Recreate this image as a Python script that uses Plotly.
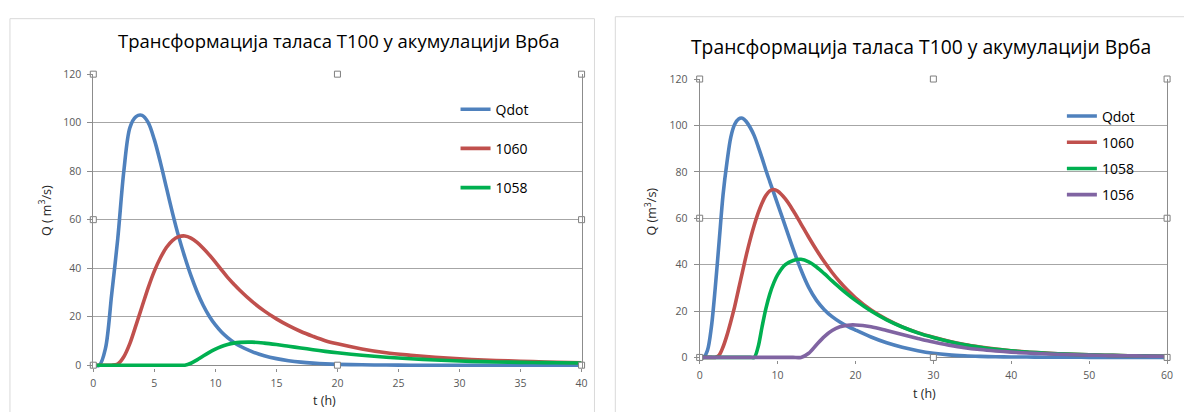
import plotly.graph_objects as go

# ---------------------------------------------------------------- data
TITLE = "Трансформација таласа Т100 у акумулацији Врба"

# Left chart: inflow hydrograph and outflow at two levels (0-40 h)
t_a = [0, 0.5, 1, 1.5, 2, 2.5, 3, 3.5, 4, 4.5, 5, 5.5, 6, 6.5, 7, 7.5, 8, 8.5,
       9, 9.5, 10, 10.5, 11, 11.5, 12,
       13, 14, 15, 16, 17, 18, 19, 20,
       22, 24, 26, 28, 30, 32, 34, 36, 38, 40]
qdot_a = [0, 0, 7, 29, 52, 80, 98, 102.5, 103, 100, 93, 83.5, 73, 62.5, 52.9, 44.5, 36.9, 30.3,
          24.7, 20.2, 16.6, 13.7, 11.4, 9.5, 7.9,
          5.6, 3.9, 2.7, 1.85, 1.25, 0.85, 0.55, 0.35,
          0.15, 0.05, 0, 0, 0, 0, 0, 0, 0, 0]
q1060_a = [0, 0, 0, 0, 0.5, 3.5, 9, 16.5, 24.3, 32, 38.8, 44.3, 48.6, 51.5, 53.0, 53.3, 52.4, 50.6,
           48.2, 45.5, 42.5, 39.3, 36.2, 33.5, 30.9,
           26.3, 22.4, 19.1, 16.3, 13.9, 11.9, 10.1, 8.8,
           6.7, 5.1, 4.1, 3.25, 2.6, 2.15, 1.77, 1.45, 1.2, 1.0]
q1058_a = [0, 0, 0, 0, 0, 0, 0, 0, 0, 0, 0, 0, 0, 0, 0, 0, 0.8, 2.2,
           3.8, 5.3, 6.6, 7.7, 8.5, 9.1, 9.4,
           9.5, 9.1, 8.5, 7.8, 7.1, 6.4, 5.7, 5.1,
           4.1, 3.3, 2.65, 2.15, 1.75, 1.45, 1.25, 1.1, 1.0, 0.9]

# Right chart: inflow hydrograph and outflow at three levels (0-60 h)
t_b = [0, 0.5, 1, 1.5, 2, 2.5, 3, 3.5, 4, 4.5, 5, 5.5, 6, 6.5, 7, 7.5, 8, 8.5, 9, 9.5, 10,
       11, 12, 13, 14, 15, 16, 17, 18, 19, 20,
       22, 24, 26, 28, 30, 32, 34, 36, 38, 40, 42, 44, 46, 48, 50, 52, 54, 56, 58, 60]
qdot_b = [0, 0, 3, 13, 30, 50, 70, 84, 95, 100.5, 102.8, 103.1, 101.6, 99, 95.6, 91, 86, 80.7, 75.8, 71, 66.2,
          56.5, 46.8, 37.8, 30.2, 24.6, 20.6, 17.6, 15.3, 13.4, 11.8,
          8.8, 6.3, 4.4, 2.9, 1.8, 1.1, 0.7, 0.45, 0.3, 0.2, 0.15, 0.1, 0.08, 0.05, 0.04, 0.03, 0.02, 0.01, 0, 0]
q1060_b = [0, 0, 0, 0, 0, 1, 4.5, 9.5, 15.5, 22, 29.5, 37, 44.3, 51, 57, 62.2, 66.5, 69.8, 71.8, 72.4, 71.7,
           68.3, 63.3, 57.6, 51.8, 46.3, 41.2, 36.6, 32.5, 28.9, 25.7,
           20.4, 16.4, 13.2, 10.7, 8.7, 7.0, 5.6, 4.5, 3.6, 2.9, 2.35, 1.95, 1.6, 1.35, 1.15, 0.95, 0.8, 0.7, 0.6, 0.5]
q1058_b = [0, 0, 0, 0, 0, 0, 0, 0, 0, 0, 0, 0, 0, 0, 0, 4.5, 13, 21, 27.3, 32, 35.6,
           40, 41.8, 42.3, 41.2, 39, 36.1, 33, 30, 27.2, 24.6,
           20, 16.2, 13.1, 10.6, 8.6, 6.9, 5.5, 4.4, 3.5, 2.85, 2.3, 1.9, 1.55, 1.3, 1.1, 0.95, 0.8, 0.7, 0.6, 0.5]
q1056_b = [0, 0, 0, 0, 0, 0, 0, 0, 0, 0, 0, 0, 0, 0, 0, 0, 0, 0, 0, 0, 0,
           0, 0, 0, 1.8, 5.5, 9, 11.6, 13.2, 13.9, 14,
           13.2, 11.6, 9.9, 8.2, 6.6, 5.3, 4.2, 3.4, 2.8, 2.3, 1.9, 1.6, 1.35, 1.15, 1.0, 0.85, 0.75, 0.65, 0.55, 0.5]

x_ticks_a = [0, 5, 10, 15, 20, 25, 30, 35, 40]
x_ticks_b = [0, 10, 20, 30, 40, 50, 60]
y_ticks = [0, 20, 40, 60, 80, 100, 120]

# ---------------------------------------------------------------- style
W, H = 1184, 412
FONT = "Open Sans"
COLORS = {"Qdot": "#4F81BD", "1060": "#C0504D", "1058": "#00B050", "1056": "#8064A2"}
GRID = "#A6A6A6"
AXIS = "#8C8C8C"
TICKFONT = dict(family=FONT, size=10.5, color="#595959")


def px_x(p):
    return p / W


def px_y(p):
    return 1 - p / H


fig = go.Figure()

series_a = [("Qdot", qdot_a), ("1060", q1060_a), ("1058", q1058_a)]
series_b = [("Qdot", qdot_b), ("1060", q1060_b), ("1058", q1058_b), ("1056", q1056_b)]

for name, vals in series_a:
    fig.add_trace(go.Scatter(
        x=t_a, y=vals, name=name, mode="lines", xaxis="x", yaxis="y",
        line=dict(color=COLORS[name], width=3.6, shape="spline", smoothing=0.9),
        legend="legend", legendgroup="a" + name, hoverinfo="skip"))

for name, vals in series_b:
    fig.add_trace(go.Scatter(
        x=t_b, y=vals, name=name, mode="lines", xaxis="x2", yaxis="y2",
        line=dict(color=COLORS[name], width=3.6, shape="spline", smoothing=0.9),
        legend="legend2", legendgroup="b" + name, hoverinfo="skip"))

# selection handles on the plot-area border
for xa, ya, xt in (("x", "y", x_ticks_a), ("x2", "y2", x_ticks_b)):
    x_lo, x_hi = xt[0], xt[-1]
    x_mid = (x_lo + x_hi) / 2
    y_lo, y_hi = y_ticks[0], y_ticks[-1]
    y_mid = (y_lo + y_hi) / 2
    hx = [x_lo, x_mid, x_hi, x_lo, x_hi, x_lo, x_mid, x_hi]
    hy = [y_hi, y_hi, y_hi, y_mid, y_mid, y_lo, y_lo, y_lo]
    fig.add_trace(go.Scatter(
        x=hx, y=hy, mode="markers", xaxis=xa, yaxis=ya, showlegend=False,
        cliponaxis=False, hoverinfo="skip",
        marker=dict(symbol="square", size=6, color="white",
                    line=dict(color="#7F7F7F", width=1))))


def xaxis_cfg(domain, ticks):
    return dict(domain=domain, range=[ticks[0], ticks[-1]], tickvals=ticks,
                showgrid=False, zeroline=False, showline=False,
                ticks="outside", ticklen=3, tickcolor=AXIS, tickfont=TICKFONT,
                ticklabelstandoff=2, fixedrange=True)


def yaxis_cfg(domain, anchor):
    return dict(domain=domain, range=[-1.2, 120], tickvals=y_ticks, anchor=anchor,
                showgrid=True, gridcolor=GRID, gridwidth=1,
                zeroline=True, zerolinecolor=AXIS, zerolinewidth=1,
                showline=True, linecolor=AXIS, linewidth=1, mirror=True,
                ticks="outside", ticklen=5, tickcolor=AXIS, tickfont=TICKFONT,
                ticklabelstandoff=4, fixedrange=True)


legend_common = dict(bgcolor="rgba(0,0,0,0)", borderwidth=0,
                     font=dict(family=FONT, size=14, color="#000000"),
                     traceorder="grouped", xanchor="left", yanchor="top",
                     itemclick=False, itemdoubleclick=False)

fig.update_layout(
    width=W, height=H,
    margin=dict(l=0, r=0, t=0, b=0),
    paper_bgcolor="white", plot_bgcolor="white",
    font=dict(family=FONT, color="#595959"),
    xaxis=xaxis_cfg([px_x(91), px_x(583)], x_ticks_a) | dict(anchor="y"),
    yaxis=yaxis_cfg([px_y(371), px_y(69)], "x"),
    xaxis2=xaxis_cfg([px_x(702), px_x(1173)], x_ticks_b) | dict(anchor="y2"),
    yaxis2=yaxis_cfg([px_y(362.9), px_y(74)], "x2"),
    legend=legend_common | dict(x=px_x(456), y=px_y(89), tracegroupgap=18),
    legend2=legend_common | dict(x=px_x(1067), y=px_y(96), tracegroupgap=5),
)

# chart-area frames
fig.add_shape(type="rect", xref="paper", yref="paper",
              x0=px_x(7), x1=px_x(596), y0=-0.2, y1=px_y(12),
              line=dict(color="#D9D9D9", width=1), layer="below")
fig.add_shape(type="rect", xref="paper", yref="paper",
              x0=px_x(617), x1=1.2, y0=-0.2, y1=px_y(10),
              line=dict(color="#D9D9D9", width=1), layer="below")

label_font = dict(family=FONT, size=12.5, color="#262626")
annotations = [
    dict(text=TITLE, x=px_x(339), y=px_y(34),
         font=dict(family=FONT, size=18.5, color="#000000")),
    dict(text=TITLE, x=px_x(925), y=px_y(41),
         font=dict(family=FONT, size=19.3, color="#000000")),
    dict(text="Q ( m<sup>3</sup>/s)", x=px_x(43), y=px_y(209), textangle=-90, font=label_font),
    dict(text="Q (m<sup>3</sup>/s)", x=px_x(653), y=px_y(210), textangle=-90, font=label_font),
    dict(text="t (h)", x=px_x(324), y=px_y(404), font=label_font),
    dict(text="t (h)", x=px_x(929), y=px_y(397), font=label_font),
]
for a in annotations:
    fig.add_annotation(xref="paper", yref="paper", xanchor="center", yanchor="middle",
                       showarrow=False, **a)

fig.write_html("out.html")
